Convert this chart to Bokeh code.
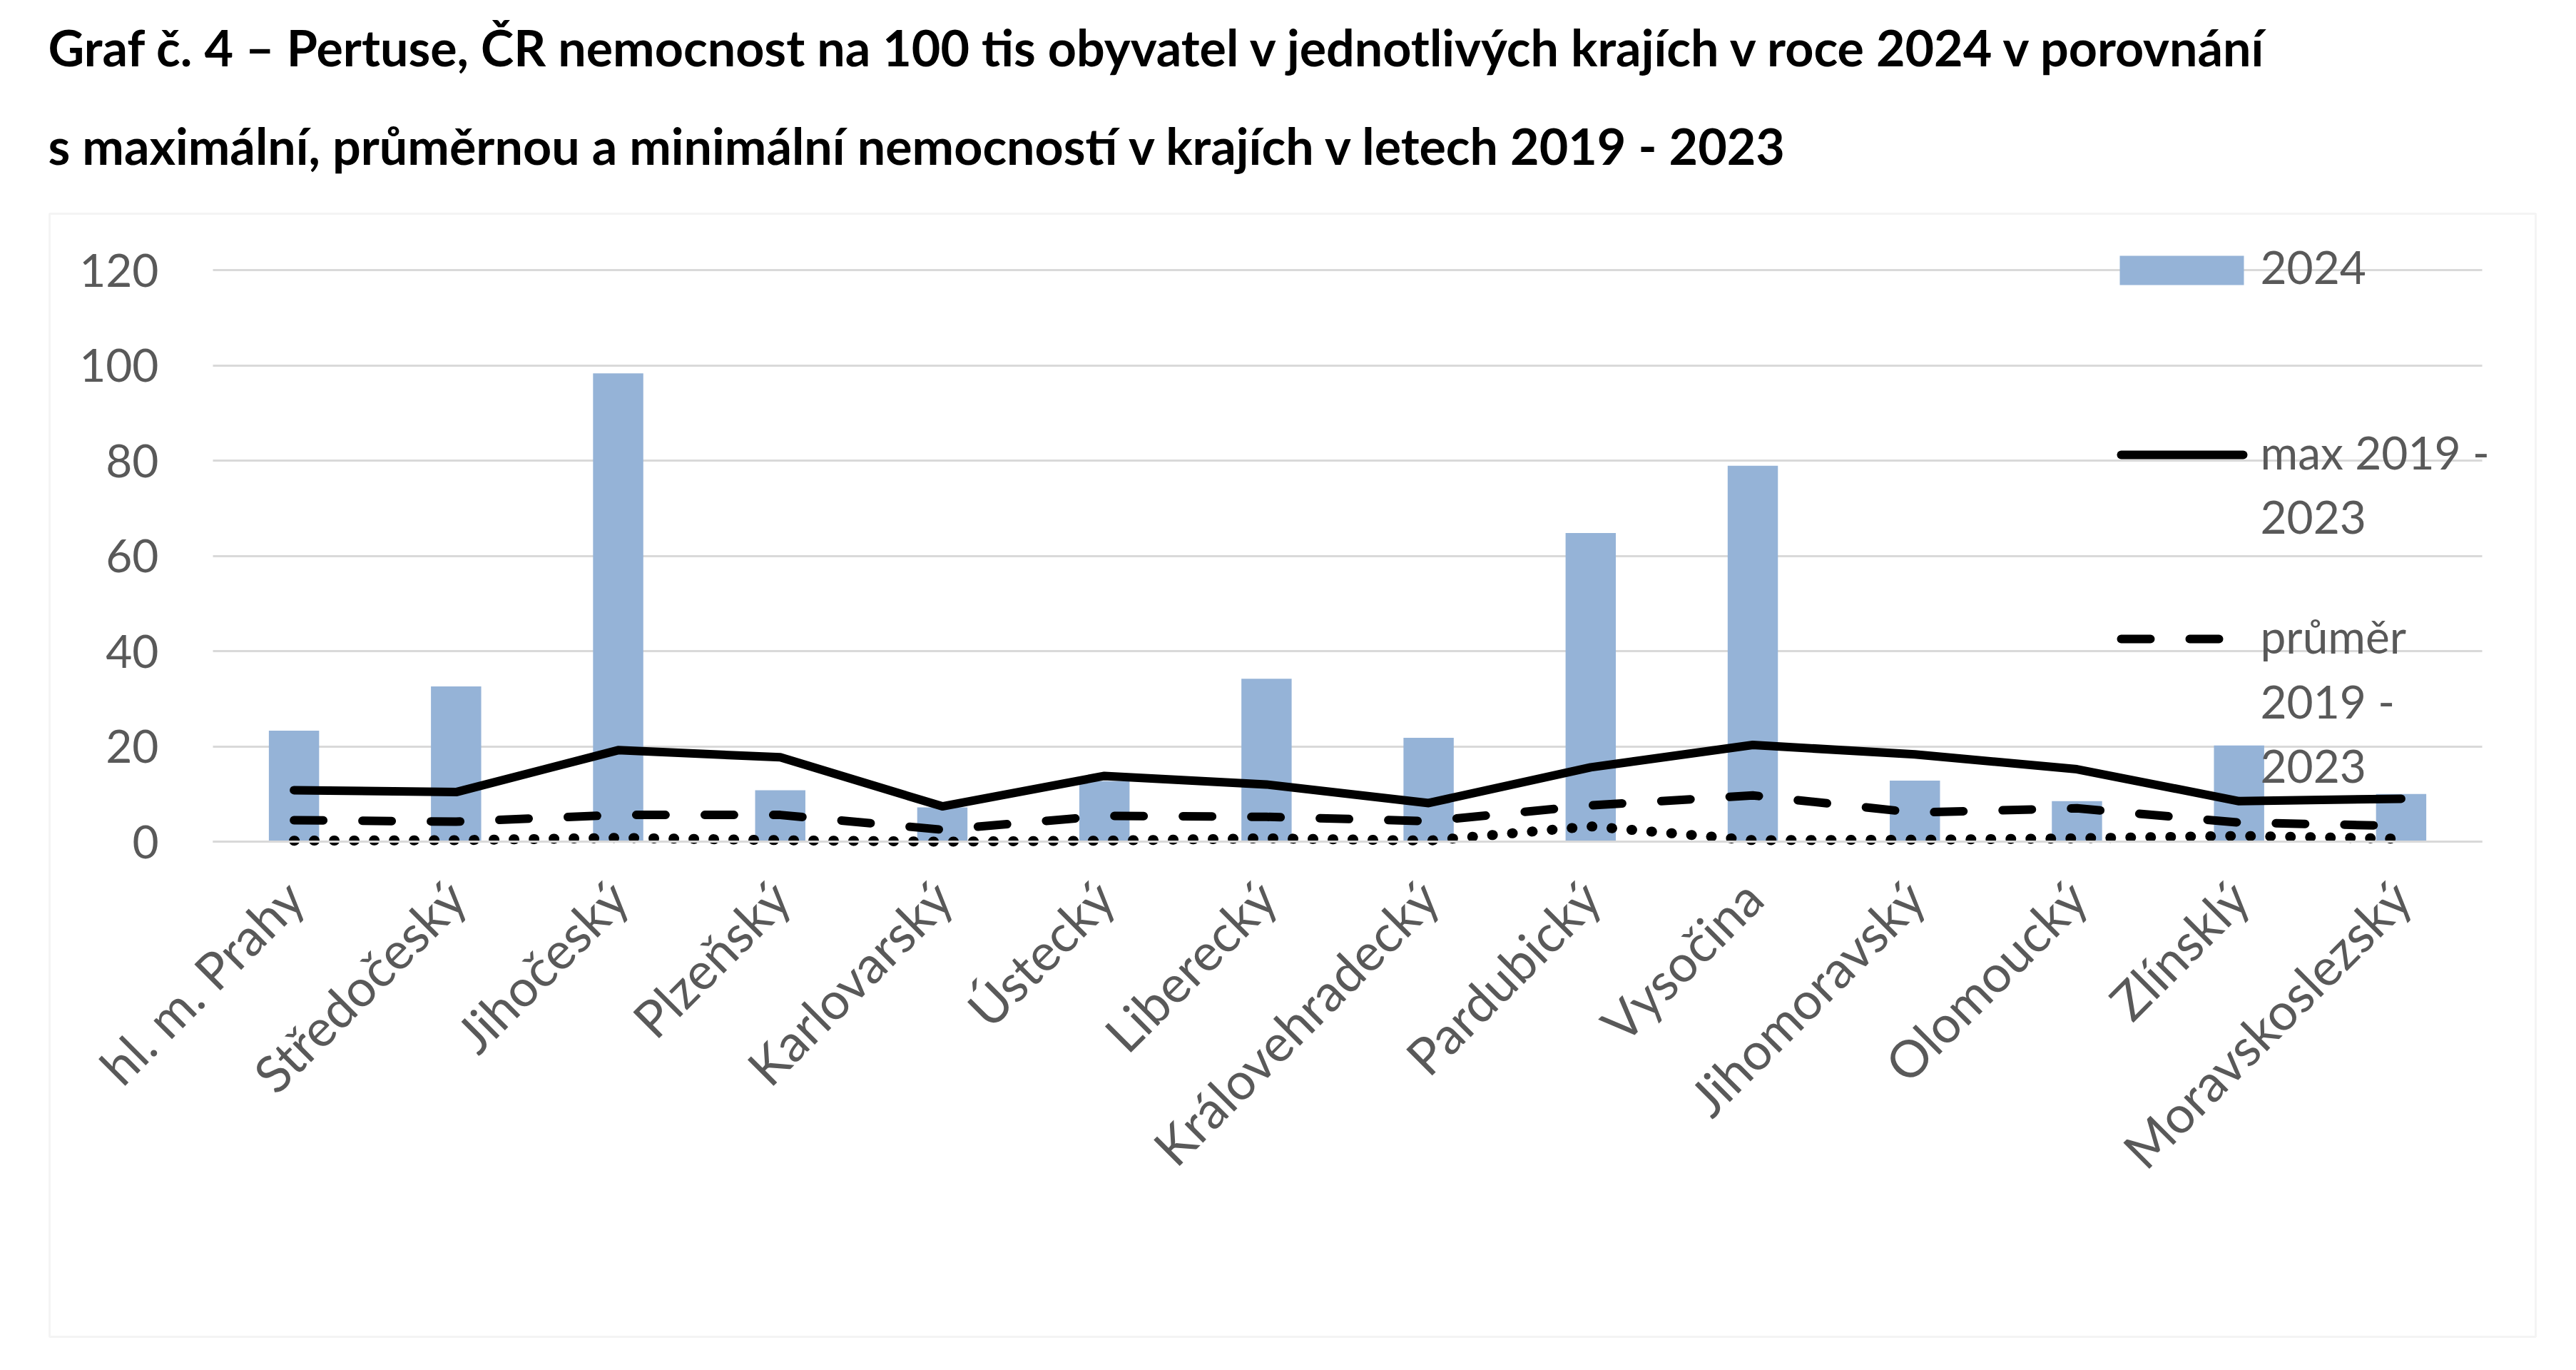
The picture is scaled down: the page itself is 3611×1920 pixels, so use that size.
import math

from bokeh.embed import file_html
from bokeh.models import (Arrow, BoxAnnotation, ColumnDataSource, FixedTicker, Grid,
                          Label, LinearAxis, Range1d)
from bokeh.plotting import figure
from bokeh.resources import INLINE

# Regions of the Czech Republic
regions = ["hl. m. Prahy", "Středočeský", "Jihočeský", "Plzeňský", "Karlovarský",
           "Ústecký", "Liberecký", "Královehradecký", "Pardubický", "Vysočina",
           "Jihomoravský", "Olomoucký", "Zlínsklý", "Moravskoslezský"]

# Pertussis incidence per 100 000 inhabitants
rate_2024 = [23.3, 32.6, 98.3, 10.8, 7.2, 12.7, 34.2, 21.8, 64.8, 78.9, 12.8, 8.5, 20.2, 10.0]
max_2019_2023 = [10.8, 10.4, 19.2, 17.7, 7.4, 13.8, 12.0, 8.1, 15.6, 20.3, 18.3, 15.2, 8.5, 9.0]
mean_2019_2023 = [4.5, 4.2, 5.6, 5.6, 2.5, 5.4, 5.2, 4.3, 7.6, 9.7, 6.1, 7.0, 4.0, 3.3]
min_2019_2023 = [0.2, 0.3, 0.8, 0.3, 0.0, 0.2, 0.7, 0.2, 3.2, 0.3, 0.4, 0.7, 1.2, 0.6]

y_ticks = [0, 20, 40, 60, 80, 100, 120]

title_lines = [
    "Graf č. 4 – Pertuse, ČR nemocnost na 100 tis obyvatel v jednotlivých krajích v roce 2024 v porovnání",
    "s maximální, průměrnou a minimální nemocností v krajích v  letech 2019 - 2023",
]
legend_bar = ["2024"]
legend_max = ["max 2019 -", "2023"]
legend_mean = ["průměr", "2019 -", "2023"]

BAR = "#95b3d7"
GRID = "#d9d9d9"
TXT = "#595959"
FONT = "Lato"
LW = 12

# page layout (pixels)
W, H = 3611, 1920
PLOT_L, PLOT_R, PLOT_T, PLOT_B = 298, 3479, 378, 1179
Y_MAX = 120

# the frame fills the whole page; data ranges are chosen so that the
# plotting area lands on PLOT_L..PLOT_R x PLOT_T..PLOT_B
n = len(regions)
step = (PLOT_R - PLOT_L) / n
c0 = PLOT_L + step / 2
ppu = (PLOT_B - PLOT_T) / Y_MAX
x_range = Range1d((0 - c0) / step, (W - c0) / step)
y_range = Range1d(-(H - PLOT_B) / ppu, PLOT_B / ppu)

pos = list(range(n))
src = ColumnDataSource(dict(x=pos, r2024=rate_2024, mx=max_2019_2023,
                            mean=mean_2019_2023, mn=min_2019_2023))


def sx(px):
    return px


def sy(py):
    return H - py


p = figure(width=W, height=H, output_backend="svg", toolbar_location=None, title=None,
           x_range=x_range, y_range=y_range, x_axis_type=None, y_axis_type=None,
           min_border=0)
p.outline_line_color = None
p.background_fill_color = "white"
p.border_fill_color = "white"

# horizontal gridlines limited to the plotting area
p.add_layout(Grid(dimension=1, ticker=FixedTicker(ticks=y_ticks),
                  cross_bounds=(-0.5, n - 0.5), grid_line_color=GRID, grid_line_width=3))

p.vbar(x="x", top="r2024", width=0.31, source=src, fill_color=BAR, line_color=None)
p.line(x="x", y="mx", source=src, line_color="black", line_width=LW,
       line_join="round", line_cap="round")
p.line(x="x", y="mean", source=src, line_color="black", line_width=LW,
       line_dash="41 55", line_join="round", line_cap="round")
p.line(x="x", y="mn", source=src, line_color="black", line_width=14,
       line_dash="1 27", line_join="round", line_cap="round")

# value axis
yaxis = LinearAxis(fixed_location=-0.5, ticker=FixedTicker(ticks=y_ticks),
                   bounds=(0, Y_MAX))
yaxis.axis_line_color = None
yaxis.major_tick_line_color = None
yaxis.minor_tick_line_color = None
yaxis.major_label_standoff = 70
yaxis.major_label_text_font = FONT
yaxis.major_label_text_font_size = "64px"
yaxis.major_label_text_color = TXT
p.add_layout(yaxis, "left")

# category axis
xaxis = LinearAxis(fixed_location=0, ticker=FixedTicker(ticks=pos),
                   major_label_overrides={i: r for i, r in zip(pos, regions)},
                   bounds=(-0.5, n - 0.5))
xaxis.axis_line_color = GRID
xaxis.axis_line_width = 3
xaxis.major_tick_line_color = None
xaxis.minor_tick_line_color = None
xaxis.major_label_orientation = math.pi / 4
xaxis.major_label_standoff = 60
xaxis.major_label_text_font = FONT
xaxis.major_label_text_font_size = "72px"
xaxis.major_label_text_color = TXT
p.add_layout(xaxis, "below")

# chart border
p.add_layout(BoxAnnotation(left=sx(69), right=sx(3554), top=sy(299), bottom=sy(1873),
                           left_units="screen", right_units="screen",
                           top_units="screen", bottom_units="screen",
                           fill_color=None, line_color=GRID, line_width=3, level="underlay"))

# title
for text, mid in zip(title_lines, [65, 203]):
    p.add_layout(Label(x=sx(67), y=sy(mid), x_units="screen", y_units="screen", text=text,
                       text_font=FONT, text_font_style="bold", text_font_size="70px",
                       text_color="black", text_baseline="middle", text_align="left"))

# legend keys
p.add_layout(BoxAnnotation(left=sx(2971), right=sx(3145), top=sy(358), bottom=sy(399),
                           left_units="screen", right_units="screen",
                           top_units="screen", bottom_units="screen",
                           fill_color=BAR, fill_alpha=1, line_color=None))
p.add_layout(Arrow(end=None, x_start=sx(2973), x_end=sx(3144), y_start=sy(637), y_end=sy(637),
                   start_units="screen", end_units="screen",
                   line_color="black", line_width=LW, line_cap="round"))
p.add_layout(Arrow(end=None, x_start=sx(2973), x_end=sx(3120), y_start=sy(895), y_end=sy(895),
                   start_units="screen", end_units="screen",
                   line_color="black", line_width=LW, line_cap="round", line_dash="41 55"))

# legend texts
for lines, first in [(legend_bar, 374), (legend_max, 633), (legend_mean, 891)]:
    for i, t in enumerate(lines):
        p.add_layout(Label(x=sx(3168), y=sy(first + 91 * i), x_units="screen", y_units="screen",
                           text=t, text_font=FONT, text_font_size="64px",
                           text_color=TXT, text_baseline="middle", text_align="left"))

open("out.html", "w").write(file_html(p, INLINE))
